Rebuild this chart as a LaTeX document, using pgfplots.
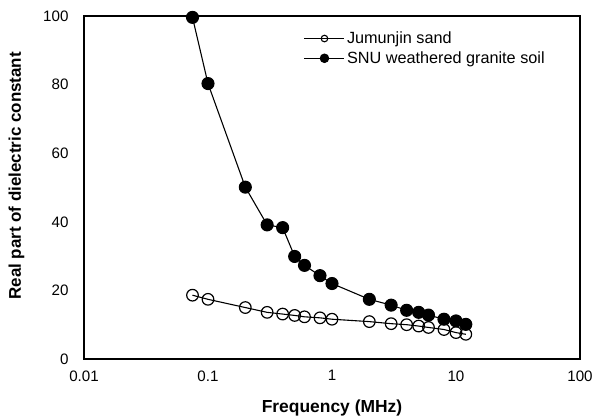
\documentclass[border=0pt]{standalone}
\usepackage{pgfplots}
\pgfplotsset{compat=1.18}
\usepackage{fontspec}
\setmainfont{Liberation Sans}
\begin{document}
\begin{tikzpicture}
\begin{axis}[
  name=ax,
  scale only axis, width=496bp, height=343bp,
  xmode=log, xmin=0.01, xmax=100, ymin=0, ymax=100,
  xtick={0.01,0.1,1,10,100},
  xticklabels={0.01,0.1,1,10,100},
  ytick={0,20,40,60,80,100},
  minor xtick={}, 
  major tick length=0pt, minor tick length=0pt,
  /pgf/number format/assume math mode=true,
  tick label style={font=\fontsize{15.2}{17}\selectfont},
  yticklabel style={xshift=-12bp},
  xticklabel style={yshift=-8bp},
  axis line style={line width=1.3pt},
  clip=false,
  xlabel={\textbf{Frequency (MHz)}},
  ylabel={\textbf{Real part of dielectric constant}},
  xlabel style={font=\fontsize{17.5}{20}\selectfont, at={(axis description cs:0.5,-0.143)}, anchor=center},
  ylabel style={font=\fontsize{17}{20}\selectfont, at={(axis description cs:-0.136,0.534)}, anchor=center},
  legend style={draw=none, fill=none, at={(axis description cs:0.443,0.96)}, anchor=north west,
    font=\fontsize{16.3}{18.5}\selectfont, row sep=2.5bp, inner sep=0pt,
    /tikz/every even column/.append style={column sep=2bp}},
  legend cell align=left,
]
\addplot[black, line width=1.1pt, mark=o, mark size=5.8bp, mark options={line width=1.2pt},
  legend image code/.code={\draw[black, line width=1.1pt] (0bp,0bp) -- (40bp,0bp);
    \draw[black, line width=1.1pt] (20bp,0bp) circle (3.3bp);}]
  coordinates {
  (0.075,18.6) (0.1,17.4) (0.2,15.0) (0.3,13.6) (0.4,13.1) (0.5,12.7) (0.6,12.3)
  (0.8,12.0) (1,11.6) (2,10.9) (3,10.3) (4,10.0) (5,9.6) (6,9.2) (8,8.6) (10,7.7) (12,7.2)
  };
\addlegendentry{Jumunjin sand}
\addplot[black, line width=1.1pt, mark=*, mark size=6bp, mark options={fill=black},
  legend image code/.code={\draw[black, line width=1.1pt] (0bp,0bp) -- (40bp,0bp);
    \fill[black] (20bp,0bp) circle (4.2bp);}]
  coordinates {
  (0.075,99.6) (0.1,80.3) (0.2,50.1) (0.3,39.1) (0.4,38.3) (0.5,29.9) (0.6,27.3)
  (0.8,24.3) (1,22.0) (2,17.4) (3,15.7) (4,14.2) (5,13.6) (6,12.8) (8,11.6) (10,11.1) (12,10.1)
  };
\addlegendentry{SNU weathered granite soil}
\end{axis}
\pgfresetboundingbox
\path[use as bounding box] ([xshift=-84bp,yshift=-60bp]ax.south west) rectangle ([xshift=14bp,yshift=16bp]ax.north east);
\end{tikzpicture}
\end{document}
